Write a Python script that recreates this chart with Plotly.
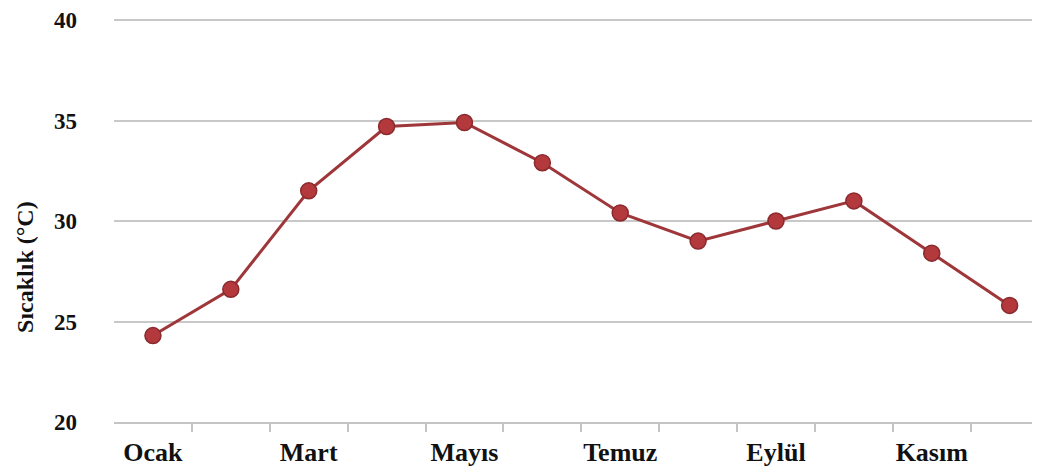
import plotly.graph_objects as go

months = ["Ocak", "Şubat", "Mart", "Nisan", "Mayıs", "Haziran",
          "Temmuz", "Ağustos", "Eylül", "Ekim", "Kasım", "Aralık"]
temps = [24.3, 26.6, 31.5, 34.7, 34.9, 32.9, 30.4, 29.0, 30.0, 31.0, 28.4, 25.8]
label_idx = [0, 2, 4, 6, 8, 10]
label_text = ["Ocak", "Mart", "Mayıs", "Temuz", "Eylül", "Kasım"]
y_ticks = [20, 25, 30, 35, 40]

xs = list(range(len(months)))
family = "Liberation Serif, Times New Roman, serif"
xfont = dict(family=family, size=26, color="#111111", weight="bold")
yfont = dict(family=family, size=23, color="#111111", weight="bold")
tfont = dict(family=family, size=24, color="#111111", weight="bold")

fig = go.Figure()
fig.add_trace(go.Scatter(
    x=xs, y=temps, mode="lines+markers",
    line=dict(color="#9E363A", width=3),
    marker=dict(size=16, color="#B3393D", line=dict(color="#8A2A2E", width=1.5)),
    text=months, hoverinfo="text+y",
))

fig.update_layout(
    width=1032, height=466,
    margin=dict(l=106, r=0, t=6, b=52, autoexpand=False),
    paper_bgcolor="white", plot_bgcolor="white",
    showlegend=False,
)
fig.update_xaxes(
    range=[-0.5, 11.39], tickvals=label_idx, ticktext=label_text,
    ticks="", showgrid=False, zeroline=False,
    showline=True, linecolor="#C4C4C4", linewidth=2,
    tickfont=xfont, ticklabelstandoff=6,
    minor=dict(tickvals=[i + 0.5 for i in range(len(months) - 1)],
               ticks="outside", ticklen=8, tickcolor="#C4C4C4", tickwidth=1.5, showgrid=False),
)
fig.update_yaxes(
    range=[20, 40.3], tickvals=y_ticks, showgrid=True, gridcolor="#C8C8C8", gridwidth=2,
    zeroline=False, showline=False, ticks="", tickfont=yfont, ticklabelstandoff=36,
)
fig.add_annotation(
    text="Sıcaklık (°C)", textangle=-90, xref="paper", yref="paper",
    x=0, xshift=-89, y=0.38, xanchor="center", yanchor="middle", showarrow=False,
    font=tfont,
)
fig.write_html("out.html")
